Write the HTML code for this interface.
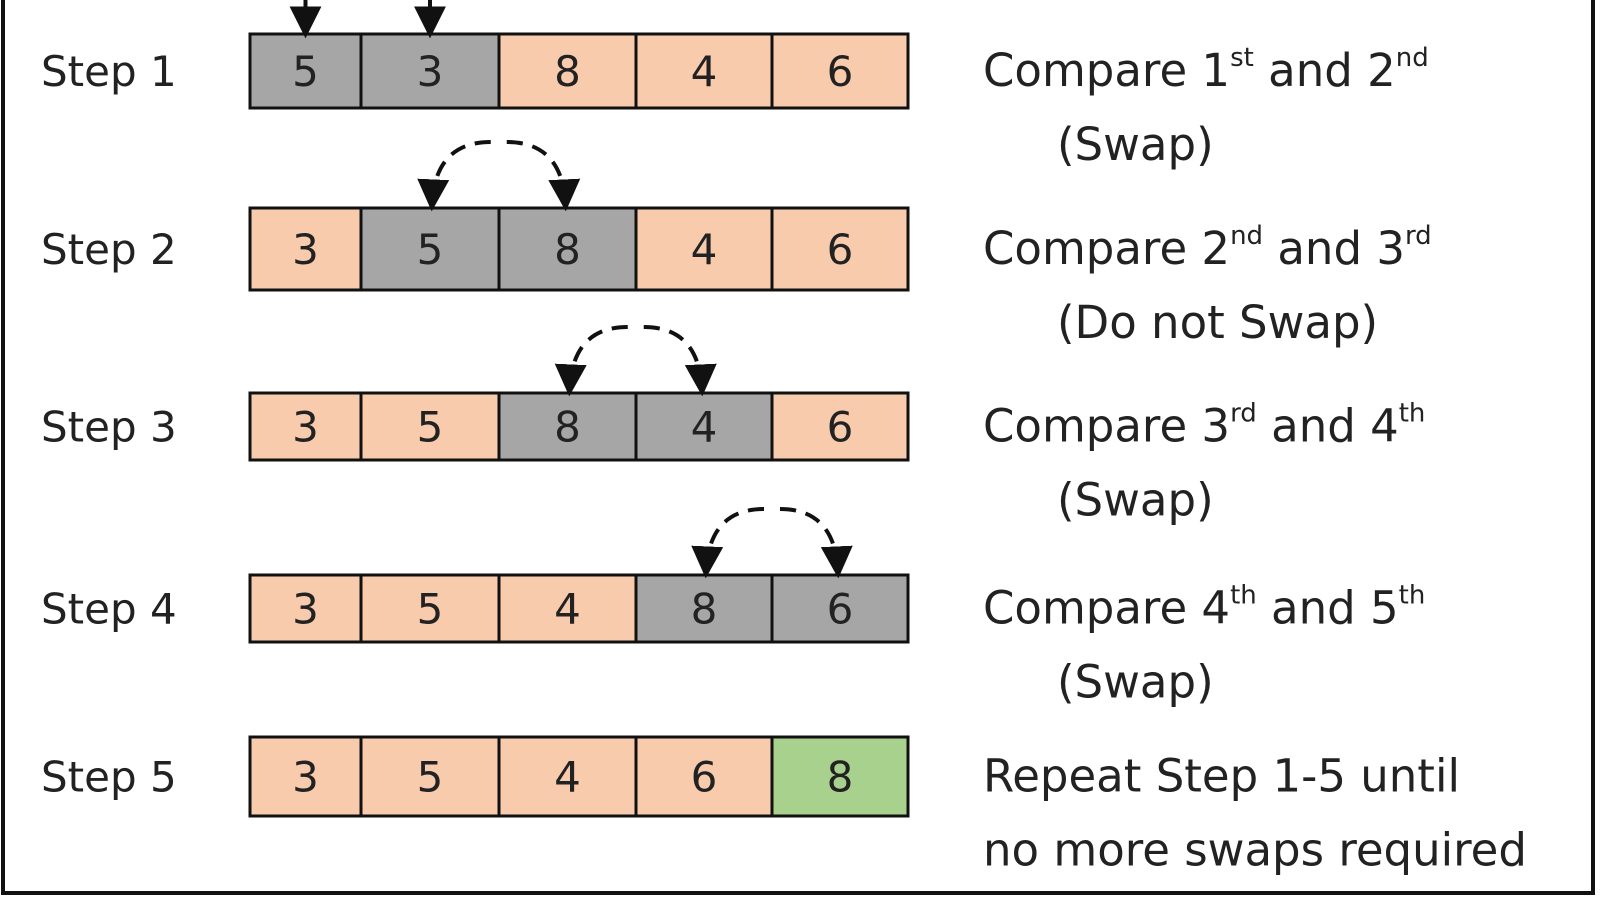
<!DOCTYPE html>
<html><head><meta charset="utf-8"><style>
html,body{margin:0;padding:0;background:#fff;}
svg{display:block;}
text{font-family:"DejaVu Sans","Liberation Sans",sans-serif;fill:#222;}
</style></head><body>
<svg id="s" width="1600" height="900" viewBox="0 0 1600 900">
<defs>
<marker id="ah" viewBox="0 0 10 10" refX="8" refY="5" markerWidth="7" markerHeight="7" markerUnits="userSpaceOnUse" orient="auto"><path d="M0,0 L10,5 L0,10 z" fill="#111"/></marker>
<marker id="ah2" viewBox="0 0 10 10" refX="8" refY="5" markerWidth="8" markerHeight="8" orient="auto"><path d="M0,0 L10,5 L0,10 z" fill="#111"/></marker>
</defs>
<rect x="3" y="-10" width="1590" height="903" fill="none" stroke="#111" stroke-width="4"/>
</svg>
<script>
const rows=[[5,3,8,4,6],[3,5,8,4,6],[3,5,8,4,6],[3,5,4,8,6],[3,5,4,6,8]];
const highlight=[[0,1],[1,2],[2,3],[3,4],[]];
const done=[[],[],[],[],[4]];
const labels=["Step 1","Step 2","Step 3","Step 4","Step 5"];
const desc1=[["Compare 1","st"," and 2","nd"],["Compare 2","nd"," and 3","rd"],["Compare 3","rd"," and 4","th"],["Compare 4","th"," and 5","th"],["Repeat  Step 1-5 until","","",""]];
const desc2=["(Swap)","(Do not Swap)","(Swap)","(Swap)","no more swaps required"];
const colX=[250,361,499,636,772,908];
const rowY=[[34,108],[208,290],[393,460],[575,642],[737,816]];
const ns="http://www.w3.org/2000/svg",s=document.getElementById('s');
function mk(t,a,p){const e=document.createElementNS(ns,t);for(const k in a)e.setAttribute(k,a[k]);(p||s).appendChild(e);return e;}
rows.forEach((r,i)=>{
 const g=mk('g',{});
 
 
 const [y0,y1]=rowY[i],cy=(y0+y1)/2;
 const lb=mk('text',{x:41,y:cy+15,'font-size':42},g);lb.textContent=labels[i];
 
 
 r.forEach((v,j)=>{
  const fill=done[i].includes(j)?'#a9d18e':highlight[i].includes(j)?'#a6a6a6':'#f8cbad';
  const c=mk('rect',{x:colX[j],y:y0,width:colX[j+1]-colX[j],height:y1-y0,fill:fill,stroke:'#111','stroke-width':3},g);
  
  
  const t=mk('text',{x:(colX[j]+colX[j+1])/2,y:cy+15,'font-size':42,'text-anchor':'middle'},g);t.textContent=v;
  
  
 });
 const d=desc1[i];
 const t1=mk('text',{x:983,y:cy+15,'font-size':45},g);
 
 
 d.forEach((p,k)=>{const ts=mk('tspan',k%2?{'font-size':26,dy:-20}:(k>0?{'font-size':45,dy:20}:{}),t1);ts.textContent=p;});
 const t2=mk('text',{x:i==4?983:1057,y:cy+89,'font-size':45},g);t2.textContent=desc2[i];
 
 
 if(highlight[i].length){
  const [a,b]=highlight[i];
  const xa=(colX[a]+colX[a+1])/2,xb=(colX[b]+colX[b+1])/2;
  if(i==0){
   [xa,xb].forEach(x=>{const l=mk('line',{x1:x,y1:-10,x2:x,y2:y0-2,stroke:'#111','stroke-width':4,'marker-end':'url(#ah2)'},g);
    
    });
  } else {
   const top=y0-66,mx=(xa+xb)/2;
   const p=mk('path',{d:`M${mx-8},${top} Q${xa+5},${top} ${xa+2},${y0-3}`,fill:'none',stroke:'#111','stroke-width':4,'stroke-dasharray':'16,10','marker-end':'url(#ah2)'},g);
   
   
   const q=mk('path',{d:`M${mx+8},${top} Q${xb-5},${top} ${xb-2},${y0-3}`,fill:'none',stroke:'#111','stroke-width':4,'stroke-dasharray':'16,10','marker-end':'url(#ah2)'},g);
   
   
  }
 }
});
</script>
</body></html>
